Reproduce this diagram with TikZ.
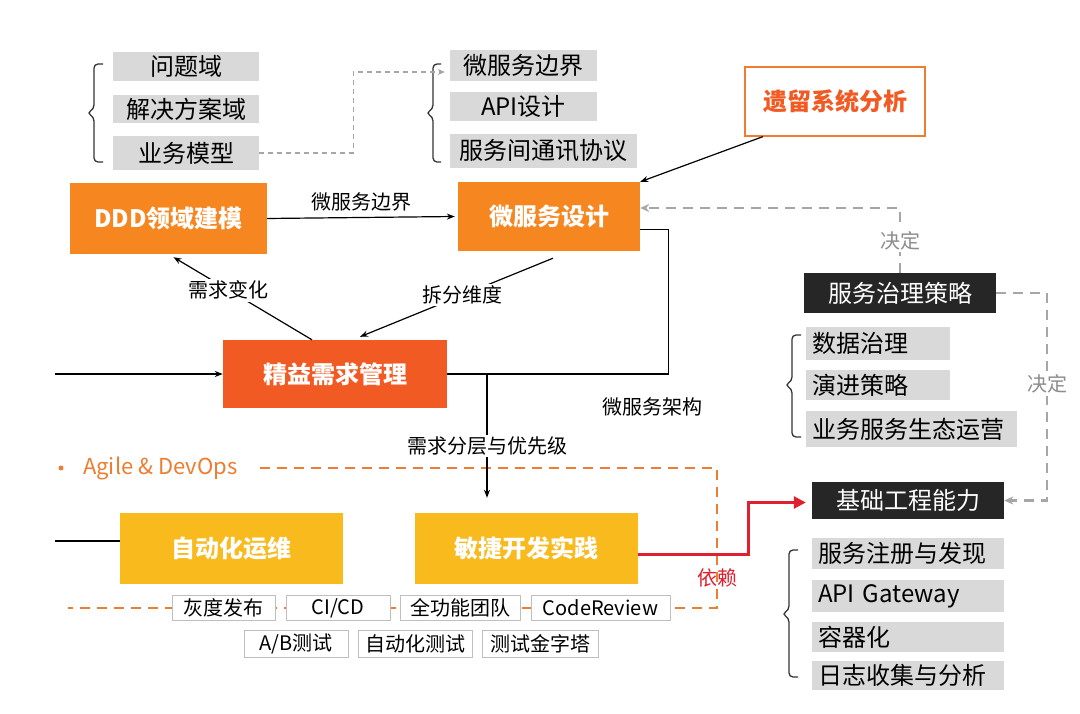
\documentclass[tikz,border=0pt]{standalone}
\usepackage{fontspec}
\setmainfont{Noto Sans CJK SC}
\usetikzlibrary{arrows.meta}

\definecolor{dddorange}{HTML}{F6861F}
\definecolor{leanred}{HTML}{F15A22}
\definecolor{opsyellow}{HTML}{F8BA1C}
\definecolor{boxgray}{HTML}{D9D9D9}
\definecolor{govdark}{HTML}{262626}
\definecolor{legacyline}{HTML}{EE7D31}
\definecolor{dashgray}{HTML}{A6A6A6}
\definecolor{labelgray}{HTML}{8C8C8C}
\definecolor{agileorange}{HTML}{ED7D31}
\definecolor{dependred}{HTML}{E0202E}
\definecolor{tagline}{HTML}{BFBFBF}

\tikzset{
  graybox/.style={fill=boxgray, inner sep=0pt, font=\fontsize{24}{26}\selectfont},
  listbox/.style={graybox, inner xsep=6pt, align=left, text width=#1},
  mainbox/.style={inner sep=0pt, text=white, font=\fontsize{24}{28}\selectfont\bfseries},
  darkbox/.style={fill=govdark, inner sep=0pt, text=white, font=\fontsize{24}{26}\selectfont},
  tagbox/.style={draw=tagline, line width=1pt, fill=white, inner sep=0pt, font=\fontsize{20}{22}\selectfont},
  flowlabel/.style={fill=white, inner sep=2pt, font=\fontsize{20}{22}\selectfont},
  flow/.style={line width=1.2pt, -{Stealth[length=8pt,width=6pt]}},
  decide/.style={draw=dashgray, line width=2.4pt, dash pattern=on 10pt off 7pt, -{Stealth[length=9pt,width=8pt]}},
  hintline/.style={draw=dashgray, line width=1.2pt, dash pattern=on 5pt off 4pt, -{Stealth[length=7pt,width=6pt]}},
  bracket/.style={line width=1.3pt, draw=black!80, rounded corners=4pt},
}

\begin{document}
\begin{tikzpicture}[x=1pt, y=-1pt]

  \fill[white] (0,0) rectangle (1080,714);

  % --- domain side ---
  \node[graybox, minimum width=146, minimum height=29] (problem) at (186,66.5) {问题域};
  \node[graybox, minimum width=146, minimum height=28] (solution) at (186,109) {解决方案域};
  \node[graybox, minimum width=146, minimum height=34] (bizmodel) at (186,153) {业务模型};
  \draw[bracket] (103,64) -- (94,64) -- (94,109) -- (87,113) -- (94,117) -- (94,162) -- (103,162);

  \node[graybox, minimum width=147, minimum height=31] (msbound) at (523.5,65.5) {微服务边界};
  \node[graybox, minimum width=147, minimum height=29] (apidesign) at (523.5,106.5) {API设计};
  \node[graybox, minimum width=187, minimum height=34] (commproto) at (543.5,151) {服务间通讯协议};
  \draw[bracket] (441,64) -- (433,64) -- (433,109) -- (426,113) -- (433,117) -- (433,162) -- (441,162);

  \draw[hintline] (bizmodel.east) -- ++(94,0) |- ([xshift=-5pt,yshift=-6.5pt]msbound.west);

  \node[draw=legacyline, line width=1.2pt, fill=white, text=leanred, inner sep=0pt,
        minimum width=180, minimum height=69, font=\fontsize{24}{28}\selectfont\bfseries]
        (legacy) at (835,101.5) {遗留系统分析};

  % --- main boxes ---
  \node[mainbox, fill=dddorange, minimum width=197, minimum height=71] (ddd) at (168.5,218.5) {DDD领域建模};
  \node[mainbox, fill=dddorange, minimum width=182, minimum height=69] (msd) at (549,216.5) {微服务设计};
  \node[mainbox, fill=leanred, minimum width=224, minimum height=68] (lean) at (335,374) {精益需求管理};
  \node[mainbox, fill=opsyellow, minimum width=223, minimum height=71] (ops) at (231.5,548.5) {自动化运维};
  \node[mainbox, fill=opsyellow, minimum width=223, minimum height=71] (agile) at (526.5,548.5) {敏捷开发实践};

  \draw[flow] (ddd.east) -- node[flowlabel, above=4pt, fill=none] {微服务边界} ([xshift=-3pt]msd.west);
  \draw[flow] ([xshift=-72pt]legacy.south) -- (msd.north east);
  \draw[flow] ([xshift=-23pt]lean.north) -- node[flowlabel, pos=0.6] {需求变化} ([xshift=5pt,yshift=-3pt]ddd.south);
  \draw[flow] ([xshift=4pt,yshift=-7pt]msd.south) -- node[flowlabel, pos=0.47] {拆分维度} ([xshift=25pt,yshift=3pt]lean.north);

  \draw[line width=1.2pt] ([yshift=-13pt]msd.east) -- ++(28,0) |- (lean.east);
  \node[font=\fontsize{20}{22}\selectfont] (msarch) at (652,407) {微服务架构};

  \coordinate (split) at (487,374);
  \coordinate (leanin) at (55,374);
  \coordinate (opsin) at (55,541);
  \draw[flow] (leanin) -- (lean.west);
  \draw[line width=1.2pt] (opsin) -- (opsin -| ops.west);

  % --- governance side ---
  \node[darkbox, minimum width=192, minimum height=40] (gov) at (900,293) {服务治理策略};
  \node[listbox=132pt, minimum height=33] (datagov) at (878,343.5) {数据治理};
  \node[listbox=132pt, minimum height=30] (evolve) at (878,385) {演进策略};
  \node[listbox=199pt, minimum height=36] (ecosys) at (911.5,429) {业务服务生态运营};
  \draw[bracket] (801,335) -- (792,335) -- (792,381) -- (785,385) -- (792,389) -- (792,437) -- (801,437);

  \node[darkbox, minimum width=192, minimum height=37] (infra) at (908,500.5) {基础工程能力};
  \node[listbox=180pt, minimum height=31] (reg) at (908,553.5) {服务注册与发现};
  \node[listbox=180pt, minimum height=32] (gateway) at (908,596) {API Gateway};
  \node[listbox=180pt, minimum height=30] (container) at (908,637) {容器化};
  \node[listbox=180pt, minimum height=29] (logs) at (908,675.5) {日志收集与分析};
  \draw[bracket] (798,550) -- (789,550) -- (789,610) -- (782,614) -- (789,618) -- (789,677) -- (798,677);

  \draw[decide] (gov.north) |- node[flowlabel, pos=0.25, text=labelgray] {决定} ([yshift=8.5pt]msd.east);
  \draw[decide] (gov.east) -- ++(51,0) |- node[flowlabel, pos=0.22, text=labelgray] {决定} (infra.east);

  % --- Agile & DevOps ---
  \fill[agileorange] (61,468) circle (2.5pt);
  \node[anchor=west, text=agileorange, inner sep=0pt, font=\fontsize{22}{24}\selectfont] (agiletitle) at (83,468) {Agile \& DevOps};
  \draw[agileorange, line width=2.6pt, dash pattern=on 10pt off 7pt] (260,468) -- (717,468) -- (717,608) -- (68,608);

  \draw[flow, shorten >=15pt] (split) -- node[flowlabel, pos=0.52] {需求分层与优先级} (split |- agile.north);

  \draw[dependred, line width=2.6pt, -{Triangle[length=12pt,width=12pt]}]
    ([yshift=-6pt]agile.east) -- ++(110,0) |- ([xshift=-6pt,yshift=-2pt]infra.west);
  \node[text=dependred, font=\fontsize{20}{22}\selectfont] (dependlabel) at (717,578) {依赖};

  \node[tagbox, minimum width=103, minimum height=25] (gray) at (223.5,608) {灰度发布};
  \node[tagbox, minimum width=104, minimum height=25] (cicd) at (338,608) {CI/CD};
  \node[tagbox, minimum width=120, minimum height=25] (team) at (460,608) {全功能团队};
  \node[tagbox, minimum width=139, minimum height=25] (review) at (600.5,608) {CodeReview};
  \node[tagbox, minimum width=104, minimum height=27] (abtest) at (296,643.5) {A/B测试};
  \node[tagbox, minimum width=114, minimum height=27] (autotest) at (415,643.5) {自动化测试};
  \node[tagbox, minimum width=116, minimum height=27] (pyramid) at (540,643.5) {测试金字塔};

\end{tikzpicture}
\end{document}
